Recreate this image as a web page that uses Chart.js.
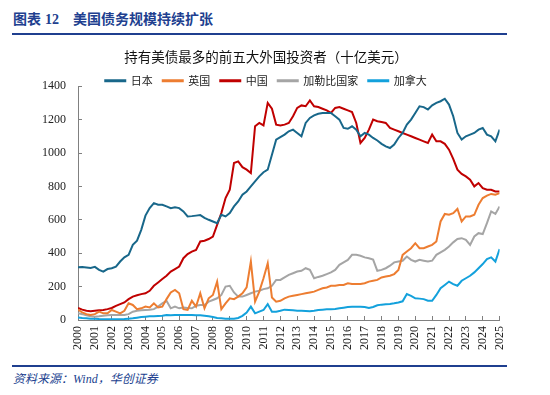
<!DOCTYPE html>
<html>
<head>
<meta charset="utf-8">
<script src="https://cdn.jsdelivr.net/npm/chart.js@4.4.1/dist/chart.umd.min.js"></script>
<style>
  html, body { margin: 0; padding: 0; background: #fff; }
  body { width: 550px; height: 395px; position: relative; overflow: hidden;
         font-family: "Liberation Serif", "Noto Sans CJK SC", serif; }
  #head { position: absolute; left: 13px; top: 8px; font-size: 14px; font-weight: bold; color: #213f8f; white-space: nowrap; }
  #head .num { margin-left: 4px; margin-right: 14px; }
  .rule { position: absolute; left: 12px; width: 495px; height: 2px; background: #1f3f8f; }
  #src { position: absolute; left: 13px; top: 369px; font-size: 12px; font-style: italic; color: #213f8f; }
  #chart { position: absolute; left: 0; top: 30px; }
</style>
</head>
<body>
<div id="head">图表<span class="num">12</span>美国债务规模持续扩张</div>
<div class="rule" style="top:33px"></div>
<canvas id="chart" width="524" height="330"></canvas>
<div class="rule" style="top:365px"></div>
<div id="src">资料来源：Wind，华创证券</div>
<script>
// quarterly readings, 2000Q1 .. 2025Q1 (十亿美元)
const startYear = 2000;
const step = 0.25;

const japan = [
  316, 318, 315, 312,  318, 300, 290, 305,  310, 320, 350, 375,
  390, 450, 475, 540,  625, 670, 700, 690,  690, 680, 670, 675,
  670, 650, 620, 622,  625, 628, 612, 600,  590, 580, 630, 620,
  640, 680, 710, 750,  770, 800, 830, 860,  885, 900, 990, 1080,
  1095, 1110, 1130, 1140,  1120, 1100, 1180, 1210,  1225, 1235, 1240, 1240,
  1240, 1220, 1200, 1150,  1145, 1160, 1140, 1100,  1120, 1110, 1090, 1075,
  1055, 1040, 1030, 1050,  1090, 1120, 1170, 1200,  1240, 1280, 1275, 1260,
  1285, 1300, 1310, 1325,  1290, 1220, 1120, 1080,  1100, 1110, 1120, 1140,
  1150, 1110, 1100, 1070,  1140
];
const uk = [
  62, 45, 35, 30,  35, 50, 40, 40,  60, 50, 40, 55,
  100, 90, 65, 70,  80, 75, 100, 75,  80, 125, 165, 180,
  160, 65, 60, 115,  80, 160, 70, 130,  150, 230, 65, 100,
  130, 125, 140, 160,  195, 350, 110, 170,  250, 340, 135, 110,
  115, 130, 140, 145,  150, 155, 160, 165,  170, 180, 190, 195,
  205, 205, 210, 210,  220, 215, 215, 215,  220, 230, 235, 240,
  255, 260, 265, 275,  300, 390, 410, 430,  460, 430, 430, 440,
  450, 470, 590, 635,  630, 640, 665, 590,  620, 620, 630, 690,
  730, 745, 755, 750,  760
];
const china = [
  72, 62, 55, 52,  55, 58, 60, 65,  72, 85, 95, 105,
  125, 140, 148, 155,  160, 175, 205, 225,  245, 265, 290, 305,
  320, 370, 395, 410,  420, 470, 475, 485,  500, 570, 640, 730,
  780, 940, 950, 915,  900, 880, 1160, 1180,  1165, 1300, 1265, 1170,
  1165, 1170, 1180, 1220,  1270, 1285, 1280, 1315,  1280, 1275, 1265, 1255,
  1240, 1270, 1275, 1265,  1255, 1245, 1180, 1060,  1090, 1140, 1200, 1190,
  1185, 1180, 1150, 1140,  1130, 1120, 1110, 1100,  1090, 1080, 1070, 1060,
  1110, 1070, 1070, 1055,  1020, 965, 900, 875,  860, 840, 800, 820,
  790, 780, 780, 770,  770
];
const caribbean = [
  40, 35, 28, 22,  20, 22, 25, 28,  30, 30, 30, 30,
  35, 50, 55, 58,  60, 62, 65, 80,  100, 115, 70, 80,
  70, 75, 72, 70,  85, 90, 90, 110,  120, 130, 150, 200,
  205, 165, 140, 140,  150, 160, 170, 175,  185, 190, 205, 240,
  240, 255, 270, 280,  290, 295, 310, 300,  250, 258, 265, 275,
  285, 300, 330, 345,  360, 390, 390, 385,  375, 370, 362, 295,
  300, 310, 325, 345,  350, 355, 380, 360,  350, 360, 355, 350,
  355, 390, 405, 420,  440, 465, 485, 490,  480, 450, 500, 520,
  515, 580, 650, 635,  680
];
const canada = [
  15, 12, 10, 8,  8, 6, 5, 5,  5, 4, 5, 6,
  8, 10, 14, 18,  20, 22, 22, 24,  26, 30, 28, 30,
  30, 30, 30, 30,  28, 28, 25, 22,  18, 12, 10, 8,
  8, 8, 12, 25,  45, 80, 40, 50,  60, 95, 50, 50,
  55, 62, 60, 58,  56, 55, 54, 52,  55, 60, 62, 64,
  64, 66, 70, 74,  78, 80, 80, 80,  78, 72, 78, 88,
  92, 94, 96, 100,  105, 112, 155, 145,  130, 128, 125, 115,
  115, 150, 190, 210,  230, 215, 205, 235,  250, 265, 285, 310,
  335, 365, 375, 350,  425
];

const cjk = '"Noto Sans CJK SC", sans-serif';
const serif = '"Liberation Serif", "Times New Roman", serif';

function series(label, values, color) {
  return {
    label: label,
    data: values.map((v, i) => ({ x: startYear + i * step, y: v })),
    borderColor: color,
    backgroundColor: color,
    borderWidth: 2,
    pointRadius: 0,
    tension: 0
  };
}

// push title + legend down so the legend sits just above the plot
const nudgeTop = {
  id: 'nudgeTop',
  afterLayout(chart) {
    [chart.titleBlock, chart.legend].forEach(b => { b.top += 10; b.bottom += 10; });
  }
};

const axisGrid = { drawOnChartArea: false, tickLength: -4, color: '#808080' };
const axisBorder = { color: '#808080', width: 1 };

new Chart(document.getElementById('chart'), {
  type: 'line',
  data: {
    datasets: [
      series('日本', japan, '#18678a'),
      series('英国', uk, '#ed7d31'),
      series('中国', china, '#c00000'),
      series('加勒比国家', caribbean, '#a5a5a5'),
      series('加拿大', canada, '#13a1dc')
    ]
  },
  options: {
    responsive: false,
    animation: false,
    layout: { padding: { left: 30, right: 22, top: 0, bottom: 0 } },
    plugins: {
      title: {
        display: true,
        text: '持有美债最多的前五大外国投资者（十亿美元）',
        color: '#111',
        font: { family: cjk, size: 13.5, weight: 'normal' },
        padding: { top: 9, bottom: 0 }
      },
      legend: {
        labels: {
          boxWidth: 20,
          boxHeight: 1,
          padding: 10,
          color: '#222',
          font: { family: cjk, size: 11 }
        }
      },
      tooltip: { enabled: false }
    },
    scales: {
      x: {
        type: 'linear',
        min: 2000,
        max: 2025,
        grid: axisGrid,
        border: axisBorder,
        ticks: {
          stepSize: 1,
          autoSkip: false,
          minRotation: 90,
          maxRotation: 90,
          padding: 10,
          color: '#222',
          font: { family: serif, size: 12 },
          callback: v => v
        },
        afterFit: s => { s.height = 40; }
      },
      y: {
        min: 0,
        max: 1400,
        grid: axisGrid,
        border: axisBorder,
        ticks: {
          stepSize: 200,
          padding: 16,
          color: '#222',
          font: { family: serif, size: 12 },
          callback: v => v
        },
        afterFit: s => { s.width = 48; }
      }
    }
  },
  plugins: [nudgeTop]
});
</script>
</body>
</html>
